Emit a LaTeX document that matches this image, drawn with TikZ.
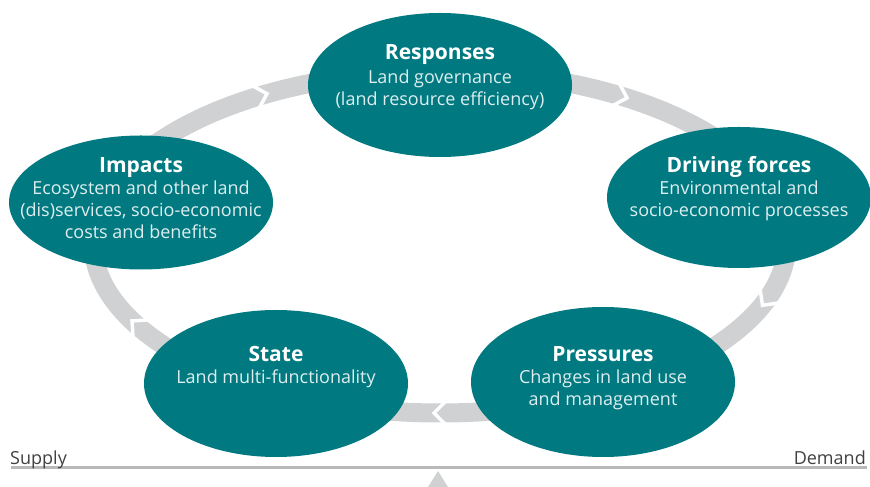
\documentclass[tikz,border=0pt]{standalone}
\usepackage{fontspec}
\setmainfont{Open Sans}
\usepackage{xcolor}
\usepackage{tikz}
\usetikzlibrary{shapes.geometric}

\definecolor{dpsirteal}{RGB}{0,122,128}
\definecolor{ringgray}{RGB}{207,209,211}
\definecolor{bodytext}{RGB}{222,238,240}
\definecolor{scalegray}{RGB}{64,64,64}
\newcommand{\ttl}[1]{{\color{white}\bfseries\fontsize{21}{22}\selectfont\rule{0pt}{16pt}#1}}

\begin{document}
\begin{tikzpicture}[x=1pt, y=1pt]
\tikzstyle{blob}=[ellipse, fill=dpsirteal, minimum width=264pt, inner sep=0pt]
\tikzstyle{txt}=[align=center, text=bodytext, inner sep=0pt, anchor=north, font=\fontsize{18}{22}\selectfont]
\tikzstyle{side}=[text=scalegray, inner sep=0pt, font=\fontsize{18}{22}\selectfont]
\useasboundingbox (0,0) rectangle (870,487);

\draw[ringgray, line width=19pt] (440,245) ellipse [x radius=347, y radius=171];
\foreach \t in {121,58.5,-20,-90,209}{
  \pgfmathsetmacro\ang{atan2(-171*cos(\t),347*sin(\t))}
  \draw[white, line width=3.5pt, line join=miter, shift={({440+347*cos(\t)},{245+171*sin(\t)})}, rotate=\ang] (-6,12) -- (6,0) -- (-6,-12);
}

\node[blob, minimum height=144pt] (resp) at (440,402) {};
\node[blob, minimum height=134pt] (impacts) at (141,284.5) {};
\node[blob, minimum height=141pt] (driving) at (739,289.5) {};
\node[blob, minimum height=147pt] (state) at (276,103.5) {};
\node[blob, minimum height=150pt] (press) at (603,105) {};

\node[txt] (resp-txt) at ([yshift=42pt]resp.center) {\ttl{Responses}\\[2pt]Land governance\\(land resource efficiency)};
\node[txt] (impacts-txt) at ([yshift=46.5pt]impacts.center) {\ttl{Impacts}\\Ecosystem and other land\\(dis)services, socio-economic\\costs and benefits};
\node[txt] (driving-txt) at ([yshift=41.5pt]driving.center) {\ttl{Driving forces}\\Environmental and\\socio-economic processes};
\node[txt] (state-txt) at ([yshift=38.5pt]state.center) {\ttl{State}\\Land multi-functionality};
\node[txt] (press-txt) at ([yshift=37pt]press.center) {\ttl{Pressures}\\Changes in land use\\and management};

\fill[ringgray] (438,16) -- (448,0) -- (428,0) -- cycle;
\draw[gray!55, line width=3pt] (11,19.5) -- (867,19.5);
\node[side, anchor=base west] (supply) at (10,22) {Supply};
\node[side, anchor=base east] (demand) at (866,22) {Demand};
\end{tikzpicture}
\end{document}
